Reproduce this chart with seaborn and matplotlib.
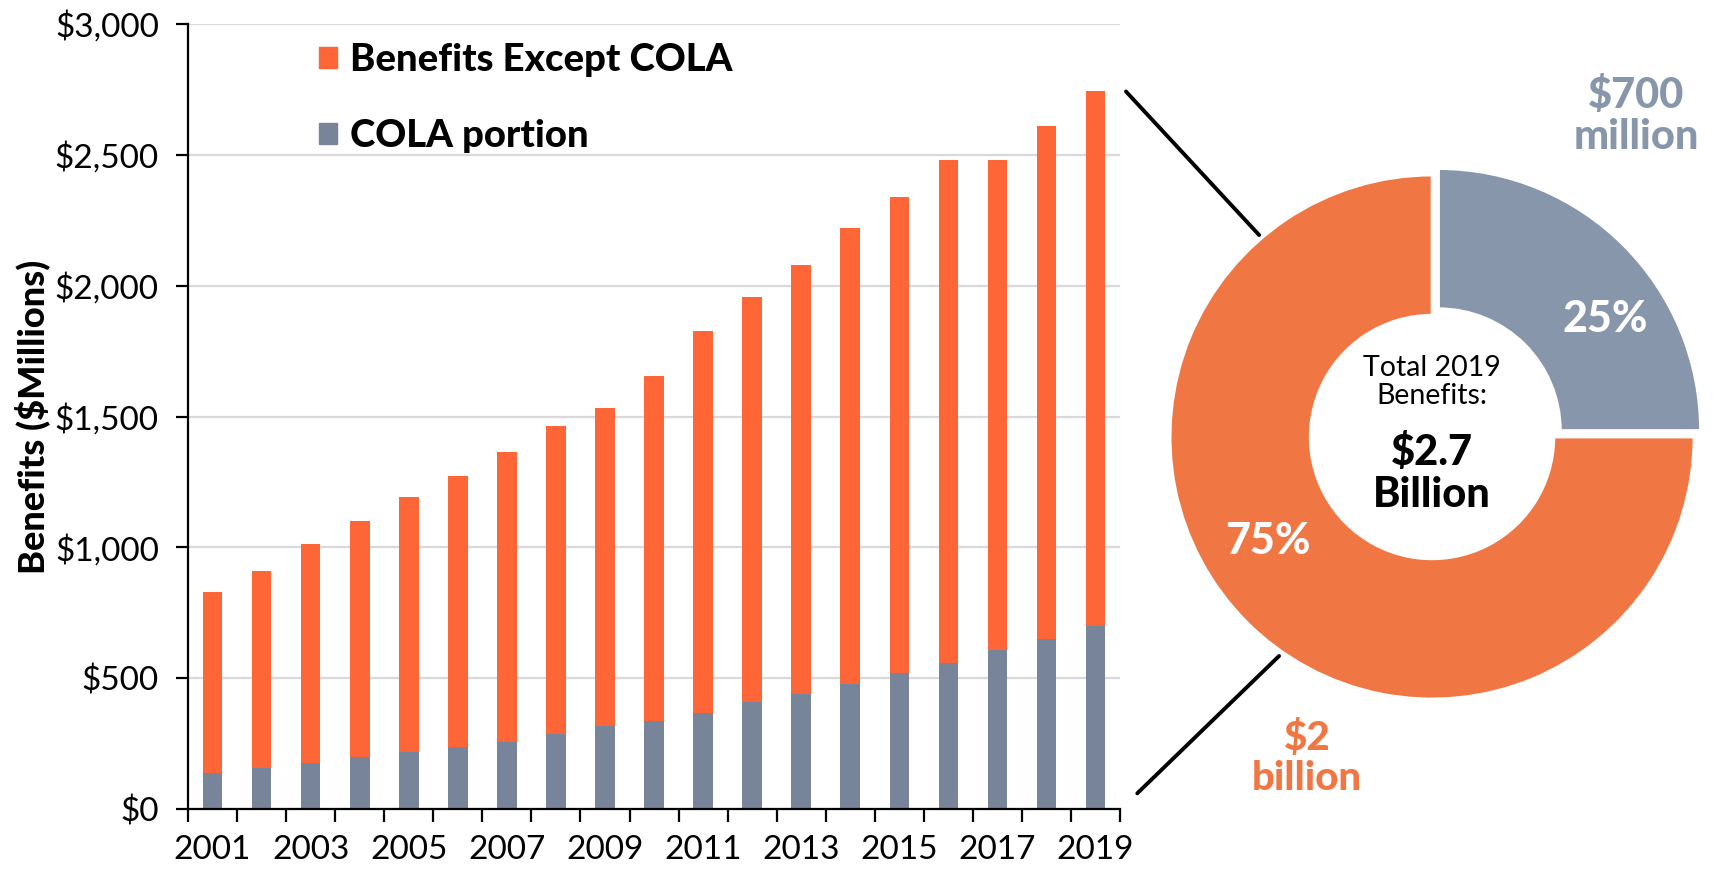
import matplotlib
matplotlib.use("Agg")
import matplotlib.pyplot as plt
from matplotlib.patches import Patch, ConnectionPatch
import numpy as np
import pandas as pd
import seaborn as sns

# data ($ millions)
years = ["2001", "2002", "2003", "2004", "2005", "2006", "2007", "2008", "2009", "2010",
         "2011", "2012", "2013", "2014", "2015", "2016", "2017", "2018", "2019"]
cola = [137, 155, 175, 198, 217, 237, 258, 288, 317, 337,
        367, 409, 440, 479, 518, 559, 609, 651, 700]
except_cola = [693, 756, 837, 903, 976, 1036, 1107, 1177, 1216, 1318,
               1459, 1549, 1638, 1740, 1822, 1920, 1870, 1959, 2042]
yticks = [0, 500, 1000, 1500, 2000, 2500, 3000]

pie_shares = [25, 75]
pie_pct_labels = ["25%", "75%"]
pie_amount_labels = ["$700\nmillion", "$2\nbillion"]

ORANGE = "#FF6637"
GREY = "#778499"
PIE_ORANGE = "#F07743"
PIE_GREY = "#8796AB"

sns.set_style("white")
plt.rcParams["font.family"] = ["Lato", "DejaVu Sans"]
plt.rcParams["text.color"] = "black"
plt.rcParams["axes.labelcolor"] = "black"
plt.rcParams["xtick.color"] = "black"
plt.rcParams["ytick.color"] = "black"

df = pd.DataFrame({"year": years, "cola": cola, "except_cola": except_cola})
df["total"] = df["cola"] + df["except_cola"]

fig = plt.figure(figsize=(17.14, 8.69), dpi=100)
ax = fig.add_axes([0.1097, 0.069, 0.5438, 0.9034])

sns.barplot(data=df, x="year", y="total", color=ORANGE, width=0.4, saturation=1,
            errorbar=None, linewidth=0, ax=ax)
sns.barplot(data=df, x="year", y="cola", color=GREY, width=0.4, saturation=1,
            errorbar=None, linewidth=0, ax=ax)

ax.set_ylim(0, 3000)
ax.set_xlim(-0.5, len(years) - 0.5)
ax.set_yticks(yticks, labels=[f"${v:,}" for v in yticks])
ax.yaxis.grid(True, color="#D9D9D9", lw=1.6)
ax.set_axisbelow(True)

# tick marks between bars, labels on every other year
bounds = np.arange(-0.5, len(years), 1)
ax.set_xticks(bounds, labels=[""] * len(bounds))
ax.set_xticks(range(0, len(years), 2), labels=years[::2], minor=True)
ax.tick_params(axis="x", which="major", length=9, width=1.6, direction="out", bottom=True)
ax.tick_params(axis="x", which="minor", length=0, pad=19, labelsize=24)
ax.tick_params(axis="y", length=9, width=1.6, direction="out", left=True, pad=12, labelsize=24)

ax.set_xlabel("")
ax.set_ylabel("Benefits ($Millions)", fontsize=26, fontweight="black")
ax.yaxis.set_label_coords(-0.148, 0.5)

for side in ["top", "right"]:
    ax.spines[side].set_visible(False)
for side in ["left", "bottom"]:
    ax.spines[side].set_color("black")
    ax.spines[side].set_linewidth(1.6)

handles = [Patch(color=ORANGE, label="Benefits Except COLA"),
           Patch(color=GREY, label="COLA portion")]
ax.legend(handles=handles, loc="upper left", bbox_to_anchor=(0.12, 1.0), frameon=False,
          prop={"weight": "black", "size": 27.5}, handlelength=0.47, handleheight=0.47,
          handletextpad=0.33, labelspacing=1.1, borderpad=0)

# donut for 2019
pax = fig.add_axes([0.6663, 0.1634, 0.3384, 0.6674])
pax.pie(pie_shares, colors=[PIE_GREY, PIE_ORANGE], startangle=90, counterclock=False,
        explode=[0.035, 0], radius=1,
        wedgeprops=dict(width=0.535, edgecolor="white", linewidth=2))
pax.set_xlim(-1.107, 1.107)
pax.set_ylim(-1.107, 1.107)
pax.set_aspect("equal")
pax.axis("off")

pax.text(0.66, 0.45, pie_pct_labels[0], color="white", fontsize=31, fontweight="black",
         ha="center", va="center")
pax.text(-0.626, -0.397, pie_pct_labels[1], color="white", fontsize=31, fontweight="black",
         ha="center", va="center")
pax.text(0.78, 1.225, pie_amount_labels[0], color=PIE_GREY, fontsize=30, fontweight="black",
         ha="center", va="center", linespacing=1.1)
pax.text(-0.477, -1.225, pie_amount_labels[1], color=PIE_ORANGE, fontsize=29, fontweight="black",
         ha="center", va="center", linespacing=1.12)
pax.text(0, 0.21, "Total 2019\nBenefits:", fontsize=20.5, ha="center", va="center",
         linespacing=1.1)
pax.text(0, -0.14, "$2.7\nBillion", fontsize=30, fontweight="black", ha="center",
         va="center", linespacing=1.12)

# connector lines from the 2019 bar to the donut
n = len(years)
for xyA, xyB in [((n - 1 + 0.62, df["total"].iloc[-1]), (-0.66, 0.771)),
                 ((n - 1 + 0.85, 60), (-0.584, -0.836))]:
    con = ConnectionPatch(xyA=xyA, xyB=xyB, coordsA=ax.transData, coordsB=pax.transData,
                          color="black", lw=2.8, capstyle="round")
    fig.add_artist(con)

fig.savefig("out.png", dpi=100)
